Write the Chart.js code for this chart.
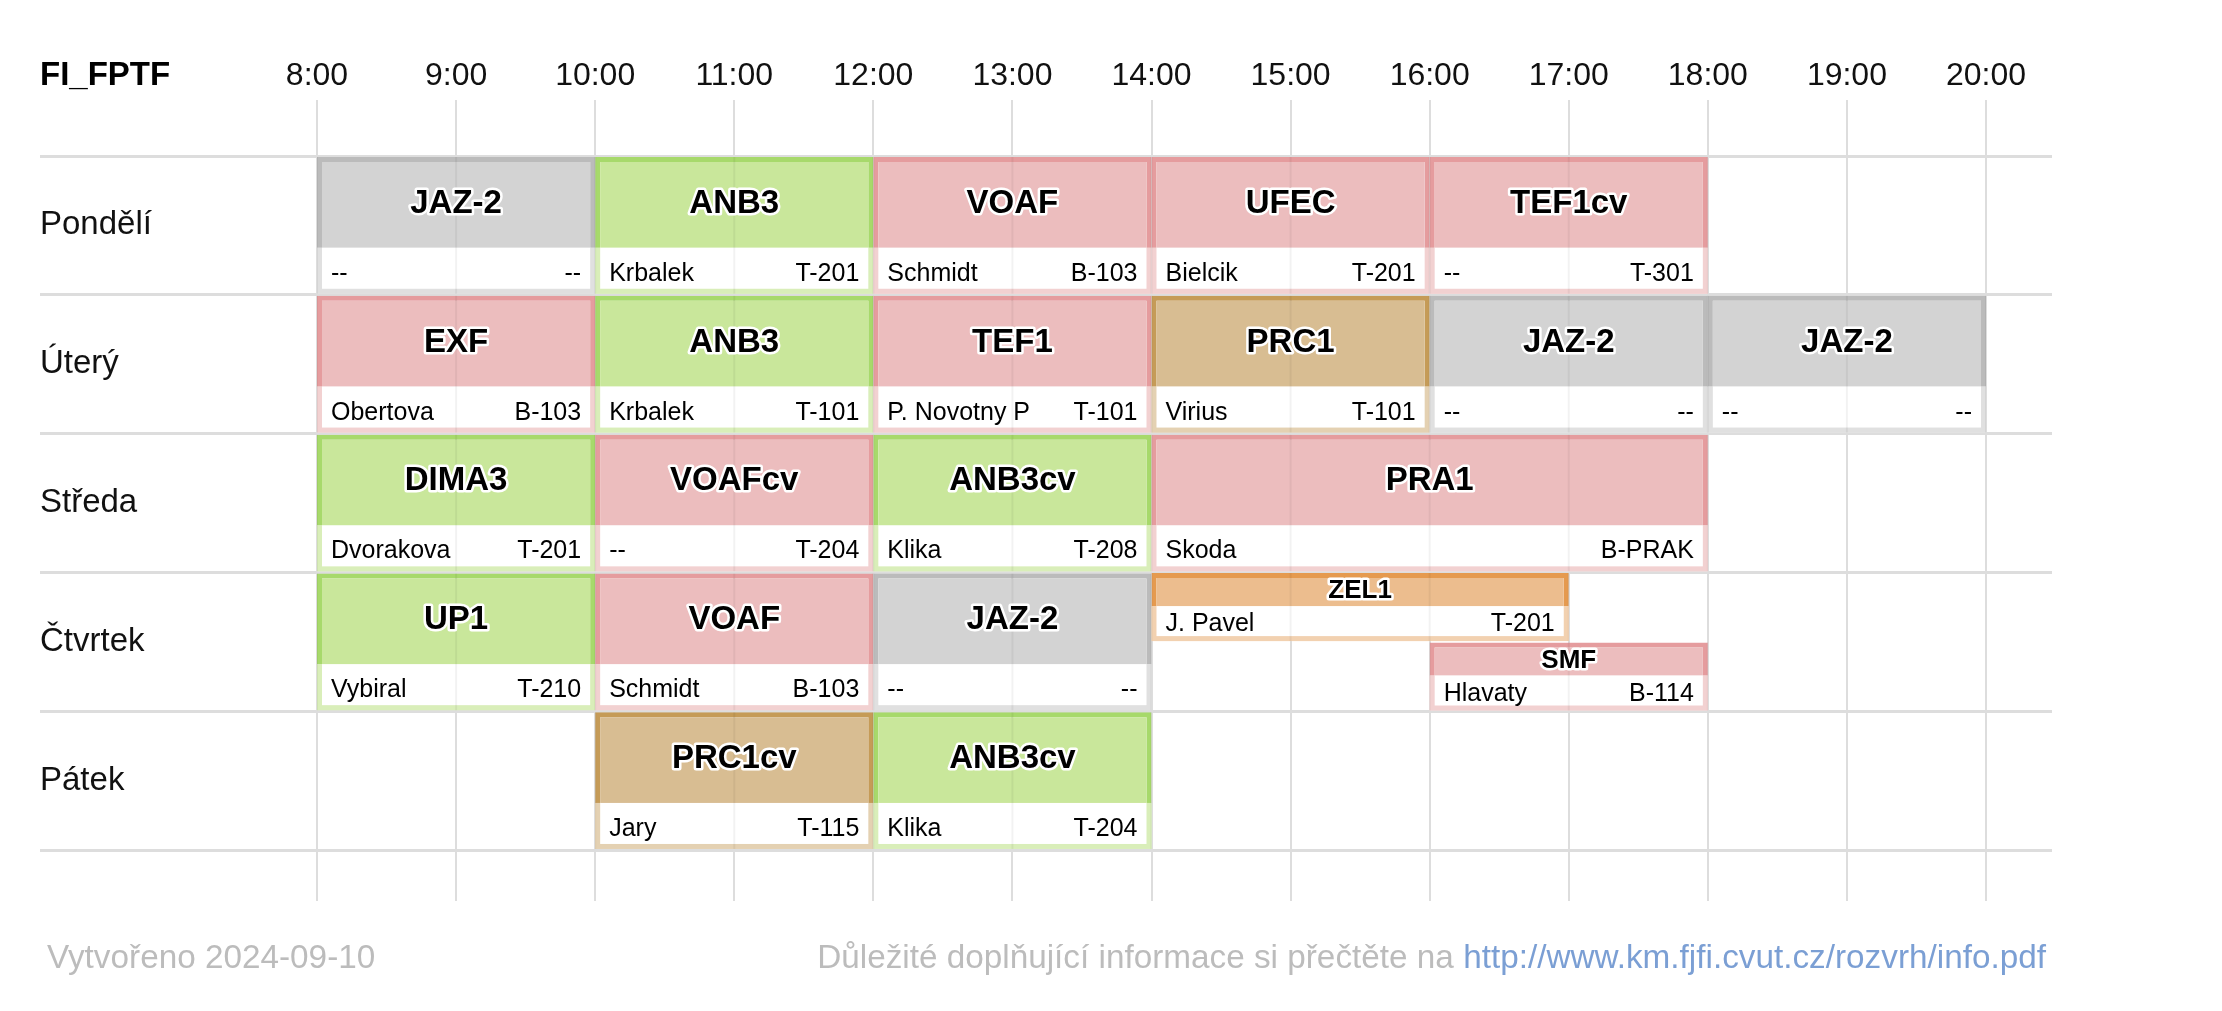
<!DOCTYPE html>
<html>
<head>
<meta charset="utf-8">
<title>FI_FPTF</title>
<script src="https://cdn.jsdelivr.net/npm/chart.js@4.4.1/dist/chart.umd.min.js"></script>
<style>
  html, body { margin: 0; padding: 0; background: #fff; }
  body { width: 2222px; height: 1011px; position: relative; overflow: hidden;
         font-family: 'Liberation Sans', Arial, sans-serif; }
  #wrap { position: absolute; left: 0; top: 0; width: 2222px; height: 1011px; }
  .title { position: absolute; left: 40px; top: 54px; font-size: 33px; line-height: 40px;
           font-weight: bold; color: #000; }
  .foot { position: absolute; top: 937px; font-size: 33.3px; line-height: 40px;
          color: #bcbcbc; white-space: nowrap; }
  .foot.left  { left: 47px; }
  .foot.right { right: 176px; }
  .foot a { color: #7b9fd4; text-decoration: none; }
</style>
</head>
<body>
<div id="wrap"><canvas id="c"></canvas></div>
<div class="title">FI_FPTF</div>
<div class="foot left">Vytvořeno 2024-09-10</div>
<div class="foot right">Důležité doplňující informace si přečtěte na <a href="http://www.km.fjfi.cvut.cz/rozvrh/info.pdf">http://www.km.fjfi.cvut.cz/rozvrh/info.pdf</a></div>

<script>
// Timetable data — one entry per lesson, parallel arrays
const DAYS = ['Pondělí', 'Úterý', 'Středa', 'Čtvrtek', 'Pátek'];
const HOUR_MIN = 8;
const HOUR_MAX = 20;

const CODE    = ['JAZ-2', 'ANB3', 'VOAF', 'UFEC', 'TEF1cv',
                 'EXF', 'ANB3', 'TEF1', 'PRC1', 'JAZ-2', 'JAZ-2',
                 'DIMA3', 'VOAFcv', 'ANB3cv', 'PRA1',
                 'UP1', 'VOAF', 'JAZ-2', 'ZEL1', 'SMF',
                 'PRC1cv', 'ANB3cv'];
const DAY     = [0, 0, 0, 0, 0,
                 1, 1, 1, 1, 1, 1,
                 2, 2, 2, 2,
                 3, 3, 3, 3, 3,
                 4, 4];
const START   = [8, 10, 12, 14, 16,
                 8, 10, 12, 14, 16, 18,
                 8, 10, 12, 14,
                 8, 10, 12, 14, 16,
                 10, 12];
const END     = [10, 12, 14, 16, 18,
                 10, 12, 14, 16, 18, 20,
                 10, 12, 14, 18,
                 10, 12, 14, 17, 18,
                 12, 14];
const TEACHER = ['--', 'Krbalek', 'Schmidt', 'Bielcik', '--',
                 'Obertova', 'Krbalek', 'P. Novotny P', 'Virius', '--', '--',
                 'Dvorakova', '--', 'Klika', 'Skoda',
                 'Vybiral', 'Schmidt', '--', 'J. Pavel', 'Hlavaty',
                 'Jary', 'Klika'];
const ROOM    = ['--', 'T-201', 'B-103', 'T-201', 'T-301',
                 'B-103', 'T-101', 'T-101', 'T-101', '--', '--',
                 'T-201', 'T-204', 'T-208', 'B-PRAK',
                 'T-210', 'B-103', '--', 'T-201', 'B-114',
                 'T-115', 'T-204'];
const KIND    = ['gray', 'green', 'red', 'red', 'red',
                 'red', 'green', 'red', 'tan', 'gray', 'gray',
                 'green', 'red', 'green', 'red',
                 'green', 'red', 'gray', 'orange', 'red',
                 'tan', 'green'];
// 'full' = whole row, 'top'/'bottom' = half row (overlapping lessons)
const SLOT    = ['full', 'full', 'full', 'full', 'full',
                 'full', 'full', 'full', 'full', 'full', 'full',
                 'full', 'full', 'full', 'full',
                 'full', 'full', 'full', 'top', 'bottom',
                 'full', 'full'];

const FILL = {
  gray:   'rgb(211,211,211)',
  green:  'rgb(201,231,155)',
  red:    'rgb(236,189,190)',
  tan:    'rgb(216,189,146)',
  orange: 'rgb(236,189,142)'
};
const BORDER = {
  gray:   '#bbbbbb',
  green:  '#a7d96b',
  red:    '#e59c9e',
  tan:    '#c59b57',
  orange: '#e59a4f'
};

const FONT = "'Liberation Sans', Arial, sans-serif";
const GRID_COLOR = '#dddddd';
const BORDER_W = 5;

Chart.defaults.font.family = FONT;

function lessonsFor(slot) {
  return CODE.map((_, i) => i)
    .filter(i => SLOT[i] === slot)
    .map(i => ({ x: [START[i], END[i]], y: DAYS[DAY[i]], lesson: i }));
}

function barRect(el) {
  const p = el.getProps(['x', 'y', 'base', 'height'], true);
  const half = p.height / 2;
  return {
    left: Math.min(p.x, p.base), right: Math.max(p.x, p.base),
    top: p.y - half, bottom: p.y + half
  };
}

function outlined(ctx, text, x, y) {
  ctx.lineJoin = 'round';
  ctx.lineWidth = 5;
  ctx.strokeStyle = '#fff';
  ctx.strokeText(text, x, y);
  ctx.fillStyle = '#000';
  ctx.fillText(text, x, y);
}

// Draws the white info strip, titles and teacher/room text on every bar
const lessonBlocks = {
  id: 'lessonBlocks',
  afterDatasetsDraw(chart) {
    const ctx = chart.ctx;
    const xs = chart.scales.x;
    const blocks = [];
    chart.data.datasets.forEach((ds, di) => {
      chart.getDatasetMeta(di).data.forEach((el, j) => {
        blocks.push({ r: barRect(el), i: ds.data[j].lesson });
      });
    });

    ctx.save();
    // info strip: lighter ring + white inner
    blocks.forEach(({ r, i }) => {
      const full = SLOT[i] === 'full';
      const stripH = full ? 46 : 35;
      const w = r.right - r.left;
      const top = r.bottom - stripH;
      ctx.fillStyle = '#fff';
      ctx.fillRect(r.left, top, w, stripH);
      ctx.globalAlpha = 0.7;
      ctx.fillStyle = FILL[KIND[i]];
      ctx.fillRect(r.left, top, w, stripH);
      ctx.globalAlpha = 1;
      ctx.fillStyle = '#fff';
      ctx.fillRect(r.left + BORDER_W, top, w - 2 * BORDER_W, stripH - BORDER_W);
    });

    // faint hour lines showing through the blocks
    ctx.save();
    ctx.beginPath();
    blocks.forEach(({ r }) => ctx.rect(r.left, r.top, r.right - r.left, r.bottom - r.top));
    ctx.clip();
    ctx.strokeStyle = 'rgba(0,0,0,0.05)';
    ctx.lineWidth = 2;
    xs.ticks.forEach(t => {
      const px = xs.getPixelForValue(t.value);
      ctx.beginPath();
      ctx.moveTo(px, chart.chartArea.top);
      ctx.lineTo(px, chart.chartArea.bottom);
      ctx.stroke();
    });
    ctx.restore();

    // texts
    blocks.forEach(({ r, i }) => {
      const full = SLOT[i] === 'full';
      const stripH = full ? 46 : 35;
      const stripTop = r.bottom - stripH;
      const titleSize = full ? 33 : 26;
      const cy = (r.top + BORDER_W + stripTop) / 2 - (full ? 4 : 3);
      ctx.textBaseline = 'alphabetic';
      ctx.textAlign = 'center';
      ctx.font = 'bold ' + titleSize + 'px ' + FONT;
      outlined(ctx, CODE[i], (r.left + r.right) / 2, cy + titleSize * 0.358);

      const base = r.bottom - BORDER_W - (full ? 8 : 5);
      ctx.font = '25px ' + FONT;
      ctx.fillStyle = '#000';
      ctx.textAlign = 'left';
      ctx.fillText(TEACHER[i], r.left + 14, base);
      ctx.textAlign = 'right';
      ctx.fillText(ROOM[i], r.right - 14, base);
    });
    ctx.restore();
  }
};

const barStyle = {
  backgroundColor: c => FILL[KIND[c.raw.lesson]],
  borderColor: c => BORDER[KIND[c.raw.lesson]],
  borderWidth: BORDER_W,
  borderSkipped: false,
  categoryPercentage: 1
};

new Chart(document.getElementById('c'), {
  type: 'bar',
  data: {
    labels: DAYS,
    datasets: [
      { label: 'full',   data: lessonsFor('full'),   grouped: false, barPercentage: 0.985, ...barStyle },
      { label: 'top',    data: lessonsFor('top'),    stack: 'top',    barPercentage: 0.98, ...barStyle },
      { label: 'bottom', data: lessonsFor('bottom'), stack: 'bottom', barPercentage: 0.98, ...barStyle }
    ]
  },
  options: {
    indexAxis: 'y',
    responsive: true,
    maintainAspectRatio: false,
    animation: false,
    layout: { padding: { left: 40, right: 170, top: 0, bottom: 110 } },
    plugins: { legend: { display: false }, tooltip: { enabled: false } },
    scales: {
      x: {
        type: 'linear', position: 'top', min: HOUR_MIN, max: HOUR_MAX,
        ticks: {
          stepSize: 1, autoSkip: false, maxRotation: 0, padding: 5,
          color: '#111', font: { size: 32 },
          callback: v => v + ':00'
        },
        grid: { color: GRID_COLOR, lineWidth: 2, tickLength: 56 },
        border: { display: false },
        afterFit(s) { s.height = 156; }
      },
      x2: {
        type: 'linear', position: 'bottom', min: HOUR_MIN, max: HOUR_MAX,
        ticks: { display: false, stepSize: 1 },
        grid: { drawOnChartArea: false, color: GRID_COLOR, lineWidth: 2, tickLength: 51 },
        border: { display: false },
        afterFit(s) { s.height = 51; }
      },
      y: {
        type: 'category', position: 'left', offset: true,
        grid: { offset: true, color: GRID_COLOR, lineWidth: 3, tickLength: 277 },
        ticks: { crossAlign: 'far', padding: 0, color: '#111', font: { size: 33 } },
        border: { display: false },
        afterFit(s) { s.width = 277; }
      },
      y1: {
        type: 'category', labels: DAYS, position: 'right', offset: true,
        grid: { offset: true, drawOnChartArea: false, color: GRID_COLOR, lineWidth: 3, tickLength: 66 },
        ticks: { display: false },
        border: { display: false },
        afterFit(s) { s.width = 66; }
      }
    }
  },
  plugins: [lessonBlocks]
});
</script>
</body>
</html>
